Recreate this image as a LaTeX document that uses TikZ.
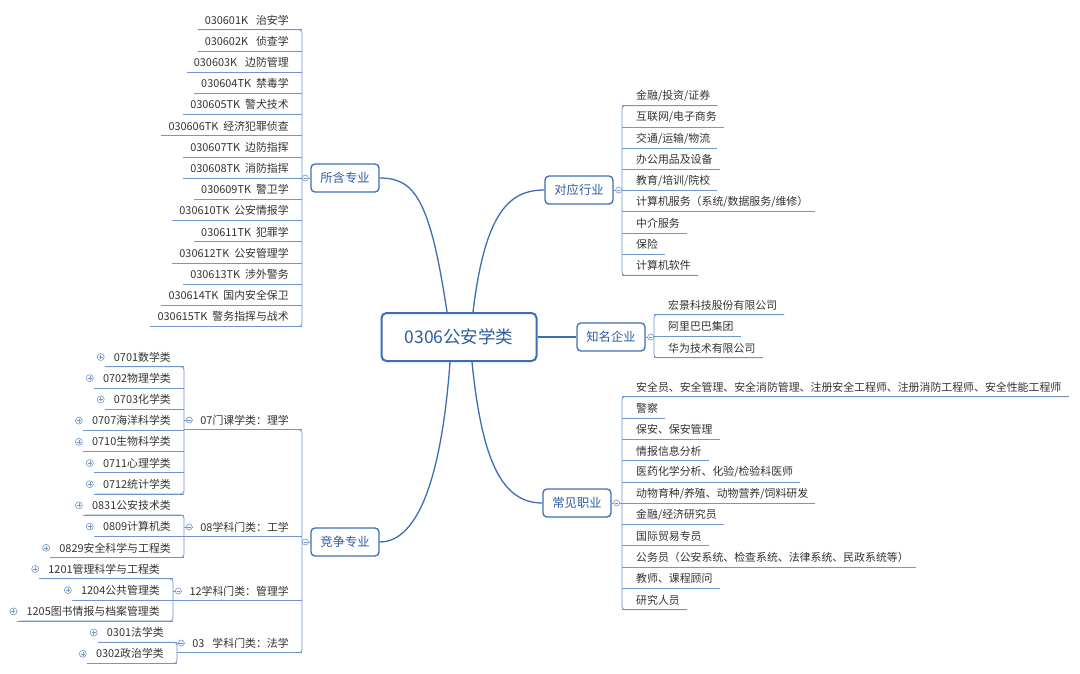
\documentclass[tikz,border=0pt]{standalone}
\usepackage{fontspec}
\setmainfont{Noto Sans CJK SC}
\usetikzlibrary{positioning}
\definecolor{mmblue}{HTML}{3C6EB4}
\definecolor{mmtext}{HTML}{2D5DA1}
\definecolor{mmline}{HTML}{7096CB}
\definecolor{mmgray}{HTML}{333333}
\tikzstyle{rootbox} = [rectangle, rounded corners=5pt, minimum width=155pt, minimum height=48pt, draw=mmblue, line width=2pt, text=mmtext, font=\fontsize{17.5}{20}\selectfont]
\tikzstyle{topicbox} = [rectangle, rounded corners=4pt, minimum width=68pt, minimum height=28pt, draw=mmblue, line width=1.3pt, text=mmtext, font=\fontsize{12.3}{14}\selectfont]
\tikzstyle{leaf} = [inner xsep=7pt, inner ysep=0pt, minimum height=19pt, text=mmgray, font=\fontsize{10.9}{12}\selectfont]
\tikzstyle{branch} = [draw=mmblue, line width=1.3pt]
\tikzstyle{uline} = [draw=mmline, line width=0.8pt]
\tikzstyle{knob} = [circle, draw=mmline, fill=white, line width=0.6pt, inner sep=0pt, minimum size=6pt,
  path picture={\draw[mmline, line width=0.6pt] ([xshift=-1.8pt]path picture bounding box.center) -- ([xshift=1.8pt]path picture bounding box.center);}]
\tikzstyle{plusknob} = [circle, draw=mmline, fill=white, line width=0.6pt, inner sep=0pt, minimum size=7pt,
  path picture={\draw[mmline, line width=0.6pt] ([xshift=-2pt]path picture bounding box.center) -- ([xshift=2pt]path picture bounding box.center)
    ([yshift=-2pt]path picture bounding box.center) -- ([yshift=2pt]path picture bounding box.center);}]

\begin{document}
\begin{tikzpicture}[x=1pt, y=-1pt]
    \fill [white] (0,0) rectangle (1080,673);
    \useasboundingbox (0,0) rectangle (1080,673);

    \node (root) [rootbox] at (459,337) {0306公安学类};
    \node (sh)  [topicbox] at (345,178) {所含专业};
    \node (jzy) [topicbox] at (345,542) {竞争专业};
    \node (hy)  [topicbox] at (579,190) {对应行业};
    \node (zm)  [topicbox] at (611,337) {知名企业};
    \node (zy)  [topicbox] at (577,503) {常见职业};

    % Ramas principales
    \draw [branch] ([xshift=-12pt]root.north) .. controls +(-17,-113) and +(35,0) .. (sh.east);
    \draw [branch] ([xshift=14pt]root.north) .. controls +(12,-100) and +(-35,0) .. (hy.west);
    \draw [branch] (root.east) -- (zm.west);
    \draw [branch] ([xshift=13pt]root.south) .. controls +(10,100) and +(-40,0) .. (zy.west);
    \draw [branch] ([xshift=-9pt]root.south) .. controls +(-8,110) and +(40,0) .. (jzy.east);

    % 所含专业
    \coordinate (shbar) at (302,0);
    \foreach \t [count=\i] in {030601K\hspace{8pt}治安学, 030602K\hspace{8pt}侦查学, 030603K\hspace{8pt}边防管理,
        030604TK\hspace{5pt}禁毒学, 030605TK\hspace{5pt}警犬技术, 030606TK\hspace{5pt}经济犯罪侦查,
        030607TK\hspace{5pt}边防指挥, 030608TK\hspace{5pt}消防指挥, 030609TK\hspace{5pt}警卫学,
        030610TK\hspace{5pt}公安情报学, 030611TK\hspace{5pt}犯罪学, 030612TK\hspace{5pt}公安管理学,
        030613TK\hspace{5pt}涉外警务, 030614TK\hspace{5pt}国内安全保卫, 030615TK\hspace{5pt}警务指挥与战术} {
        \node (sh\i) [leaf, anchor=east] at (296, {20+21.2*(\i-1)}) {\t};
        \draw [uline] (sh\i.south west) -- (sh\i.south -| shbar);
    }
    \draw [uline, rounded corners=3pt] (sh1.south west) -- (sh1.south -| shbar) -- (sh15.south -| shbar) -- (sh15.south west);
    \draw [uline] (sh.west) -- (sh.west -| shbar);
    \node [knob] at ([xshift=-5pt]sh.west) {};

    % 对应行业
    \coordinate (hybar) at (622,0);
    \foreach \t [count=\i] in {金融/投资/证券, 互联网/电子商务, 交通/运输/物流, 办公用品及设备, 教育/培训/院校,
        计算机服务（系统/数据服务/维修）, 中介服务, 保险, 计算机软件} {
        \node (hy\i) [leaf, anchor=west] at (629, {96+21.2*(\i-1)}) {\t};
        \draw [uline] (hy\i.south -| hybar) -- (hy\i.south east);
    }
    \draw [uline, rounded corners=3pt] (hy1.south east) -- (hy1.south -| hybar) -- (hy9.south -| hybar) -- (hy9.south east);
    \draw [uline] (hy.east) -- (hy.east -| hybar);
    \node [knob] at ([xshift=5pt]hy.east) {};

    % 知名企业
    \coordinate (zmbar) at (654,0);
    \foreach \t [count=\i] in {宏景科技股份有限公司, 阿里巴巴集团, 华为技术有限公司} {
        \node (zm\i) [leaf, anchor=west] at (661, {305+21.5*(\i-1)}) {\t};
        \draw [uline] (zm\i.south -| zmbar) -- (zm\i.south east);
    }
    \draw [uline, rounded corners=3pt] (zm1.south east) -- (zm1.south -| zmbar) -- (zm3.south -| zmbar) -- (zm3.south east);
    \draw [uline] (zm.east) -- (zm.east -| zmbar);
    \node [knob] at ([xshift=5pt]zm.east) {};

    % 常见职业
    \coordinate (zybar) at (622,0);
    \foreach \t [count=\i] in {安全员、安全管理、安全消防管理、注册安全工程师、注册消防工程师、安全性能工程师, 警察, 保安、保安管理,
        情报信息分析, 医药化学分析、化验/检验科医师, 动物育种/养殖、动物营养/饲料研发, 金融/经济研究员, 国际贸易专员,
        公务员（公安系统、检查系统、法律系统、民政系统等）, 教师、课程顾问, 研究人员} {
        \node (zy\i) [leaf, anchor=west] at (629, {387+21.3*(\i-1)}) {\t};
        \draw [uline] (zy\i.south -| zybar) -- (zy\i.south east);
    }
    \draw [uline, rounded corners=3pt] (zy1.south east) -- (zy1.south -| zybar) -- (zy11.south -| zybar) -- (zy11.south east);
    \draw [uline] (zy.east) -- (zy.east -| zybar);
    \node [knob] at ([xshift=5pt]zy.east) {};

    % 竞争专业
    \coordinate (jzbar) at (302,0);
    \coordinate (jbA) at (184,0);
    \coordinate (jbB) at (184,0);
    \coordinate (jbC) at (173,0);
    \coordinate (jbD) at (177,0);
    \node (jp1) [leaf, anchor=east] at (296,420) {07门课学类：理学};
    \node (jp2) [leaf, anchor=east] at (296,527) {08学科门类：工学};
    \node (jp3) [leaf, anchor=east] at (296,591) {12学科门类：管理学};
    \node (jp4) [leaf, anchor=east] at (296,643) {03\hspace{8pt}学科门类：法学};
    \foreach \t/\xe/\xb [count=\k from 0] in {0701数学类/178/jbA, 0702物理学类/178/jbA, 0703化学类/178/jbA,
        0707海洋科学类/178/jbA, 0710生物科学类/178/jbA, 0711心理学类/178/jbA, 0712统计学类/178/jbA,
        0831公安技术类/178/jbB, 0809计算机类/178/jbB, 0829安全科学与工程类/178/jbB,
        1201管理科学与工程类/167/jbC, 1204公共管理类/167/jbC, 1205图书情报与档案管理类/167/jbC,
        0301法学类/171/jbD, 0302政治学类/171/jbD} {
        \node (gc\k) [leaf, anchor=east] at (\xe, {357+21.2*\k}) {\t};
        \draw [uline] ([xshift=-2pt]gc\k.south west) -- (gc\k.south -| \xb);
        \node [plusknob] at ([xshift=-6pt]gc\k.west) {};
    }
    \draw [uline, rounded corners=3pt] (gc0.south west) -- (gc0.south -| jbA) -- (gc6.south -| jbA) -- (gc6.south west);
    \draw [uline, rounded corners=3pt] (gc7.south west) -- (gc7.south -| jbB) -- (gc9.south -| jbB) -- (gc9.south west);
    \draw [uline, rounded corners=3pt] (gc10.south west) -- (gc10.south -| jbC) -- (gc12.south -| jbC) -- (gc12.south west);
    \draw [uline, rounded corners=3pt] (gc13.south west) -- (gc13.south -| jbD) -- (gc14.south -| jbD) -- (gc14.south west);
    \foreach \p/\b in {jp1/jbA, jp2/jbB, jp3/jbC, jp4/jbD} {
        \draw [uline] (\p.south -| \b) -- (\p.south -| jzbar);
        \draw [uline] (\p.west -| \b) -- (\p.west);
        \node [knob] at ([xshift=-4pt]\p.west) {};
    }
    \draw [uline, rounded corners=3pt] (jp1.south east) -- (jp1.south -| jzbar) -- (jp4.south -| jzbar) -- (jp4.south east);
    \draw [uline] (jzy.west) -- (jzy.west -| jzbar);
    \node [knob] at ([xshift=-5pt]jzy.west) {};
\end{tikzpicture}
\end{document}
